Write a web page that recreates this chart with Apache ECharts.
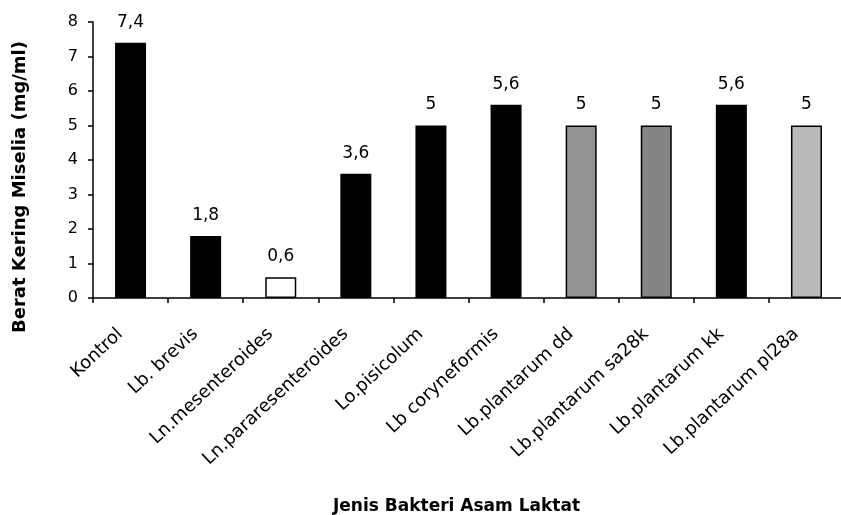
<!DOCTYPE html>
<html>
<head>
<meta charset="utf-8">
<script src="https://cdn.jsdelivr.net/npm/echarts@6/dist/echarts.min.js"></script>
<style>
  html, body { margin: 0; padding: 0; background: #fff; }
  #chart { width: 841px; height: 515px; }
</style>
</head>
<body>
<div id="chart"></div>
<script>
// Dry mycelium weight per lactic acid bacteria treatment
const categories = [
  'Kontrol', 'Lb. brevis', 'Ln.mesenteroides', 'Ln.pararesenteroides',
  'Lo.pisicolum', 'Lb coryneformis', 'Lb.plantarum dd', 'Lb.plantarum sa28k',
  'Lb.plantarum kk', 'Lb.plantarum pl28a'
];
const values = [7.4, 1.8, 0.6, 3.6, 5, 5.6, 5, 5, 5.6, 5];
const yTicks = [0, 1, 2, 3, 4, 5, 6, 7, 8];

// fill per bar: black, white or grey dither
const barFills = ['#000', '#000', '#fff', '#000', '#000', '#000', '#939393', '#858585', '#000', '#b9b9b9'];

const FONT = '"DejaVu Sans", "Liberation Sans", Arial, sans-serif';
const chart = echarts.init(document.getElementById('chart'));

chart.setOption({
  animation: false,
  backgroundColor: '#fff',
  grid: {
    left: 93, top: 22, width: 751, bottom: 217,
    containLabel: false, outerBoundsMode: 'none'
  },
  xAxis: {
    type: 'category',
    data: categories,
    boundaryGap: true,
    axisLine: { lineStyle: { color: '#000', width: 1.5 } },
    axisTick: { show: true, alignWithLabel: false, length: 5, inside: false, lineStyle: { color: '#000', width: 1.5 } },
    axisLabel: {
      interval: 0, rotate: 43, margin: 24, padding: [0, 14, 0, 0],
      color: '#000', fontFamily: FONT, fontSize: 18
    },
    name: 'Jenis Bakteri Asam Laktat',
    nameLocation: 'middle',
    nameGap: 200,
    nameTextStyle: { color: '#000', fontFamily: FONT, fontSize: 17, fontWeight: 'bold', padding: [0, 24, 0, 0] }
  },
  yAxis: {
    type: 'value',
    min: yTicks[0], max: yTicks[yTicks.length - 1], interval: 1,
    axisLine: { show: true, lineStyle: { color: '#000', width: 1.5 } },
    axisTick: { show: true, length: 5, lineStyle: { color: '#000', width: 1.5 } },
    splitLine: { show: false },
    axisLabel: { color: '#000', fontFamily: FONT, fontSize: 16, margin: 15 },
    name: 'Berat Kering Miselia (mg/ml)',
    nameLocation: 'middle',
    nameGap: 64,
    nameRotate: 90,
    nameTextStyle: { color: '#000', fontFamily: FONT, fontSize: 18, fontWeight: 'bold', padding: [0, 54, 0, 0] }
  },
  series: [{
    type: 'bar',
    barWidth: 31,
    data: values.map((v, i) => ({
      value: v,
      itemStyle: { color: barFills[i], borderColor: '#000', borderWidth: 1.5 }
    })),
    label: {
      show: true, position: 'top', distance: 12,
      color: '#000', fontFamily: FONT, fontSize: 17,
      formatter: p => String(p.value).replace('.', ',')
    }
  }]
});
</script>
</body>
</html>
